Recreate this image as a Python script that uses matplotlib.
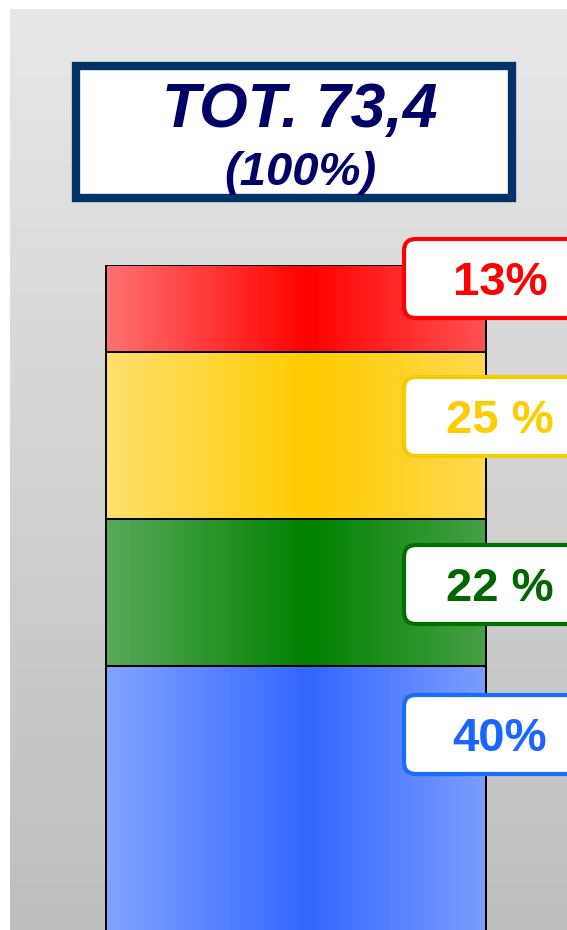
import numpy as np
import matplotlib.pyplot as plt
from matplotlib.colors import LinearSegmentedColormap
from matplotlib.patches import Rectangle, FancyBboxPatch

# data
total_label = "TOT. 73,4"
total_pct = "(100%)"
shares = [13, 25, 22, 40]
share_labels = ["13%", "25 %", "22 %", "40%"]
# left edge, centre, right edge of each gradient
bar_colors = [["#FF7272", "#FF0000", "#FF5252"],
              ["#FFE070", "#FFCC00", "#FFD950"],
              ["#5AAA5A", "#008000", "#45A045"],
              ["#82A4FF", "#3366FF", "#7C9EFF"]]
text_colors = ["#FF0000", "#FFCC00", "#006600", "#1A66FF"]
border_colors = ["#FF0000", "#F2CE00", "#007000", "#1A6CFF"]

W, H = 567, 930
fig = plt.figure(figsize=(W / 100, H / 100), dpi=100)
fig.patch.set_facecolor("white")

# background gradient
bg = fig.add_axes([0, 0, 1, 1], zorder=0)
bg.set_xlim(0, W)
bg.set_ylim(H, 0)
bg.axis("off")
grad = np.linspace(0, 1, 256).reshape(-1, 1)
bg_cmap = LinearSegmentedColormap.from_list("bg", ["#E8E8E8", "#BEBEBE"])
bg.imshow(grad, cmap=bg_cmap, extent=[10, W, H, 10], aspect="auto")

# stacked bar (one column, 0% at top)
px_per_pct = 6.69
bar_top, bar_left, bar_right = 265, 106, 486
ymax = 102
ax_h = ymax * px_per_pct
ax = fig.add_axes([0, (H - bar_top - ax_h) / H, 1, ax_h / H], zorder=1)
bw = bar_right - bar_left
ax.axis("off")

starts = np.concatenate([[0], np.cumsum(shares)[:-1]])
bars = ax.bar(0, shares, bottom=starts, width=1, facecolor="none",
              edgecolor="black", linewidth=1.4, zorder=3)
hgrad = np.linspace(0, 1, 256).reshape(1, -1)
for b, cols in zip(bars, bar_colors):
    cm = LinearSegmentedColormap.from_list("g", [(0, cols[0]), (0.53, cols[1]), (1, cols[2])])
    x0, y0 = b.get_x(), b.get_y()
    im = ax.imshow(hgrad, cmap=cm, aspect="auto", zorder=2,
                   extent=[x0, x0 + b.get_width(), y0 + b.get_height(), y0])
    im.set_clip_path(b)
ax.set_xlim(-0.5 - bar_left / bw, 0.5 + (W - bar_right) / bw)
ax.set_ylim(ymax, 0)

# overlay: title box and label boxes
ov = fig.add_axes([0, 0, 1, 1], zorder=3)
ov.set_xlim(0, W)
ov.set_ylim(H, 0)
ov.axis("off")
ov.patch.set_visible(False)

ov.add_patch(Rectangle((76, 66), 436, 132, facecolor="white",
                       edgecolor="#003366", linewidth=6))
ov.text(300, 127, total_label, ha="center", va="baseline", fontsize=45,
        fontweight="bold", fontstyle="italic", family="Liberation Sans", color="#000066")
ov.text(300, 185, total_pct, ha="center", va="baseline", fontsize=34,
        fontweight="bold", fontstyle="italic", family="Liberation Sans", color="#000066")

box_tops = [237, 375, 543, 693]
for top, lab, tc, ec in zip(box_tops, share_labels, text_colors, border_colors):
    ov.add_patch(FancyBboxPatch((404, top + 2), 220, 79,
                                boxstyle="round,pad=0,rounding_size=12",
                                facecolor="white", edgecolor=ec, linewidth=3))
    ov.text(500, top + 58, lab, ha="center", va="baseline", fontsize=34,
            fontweight="bold", family="Liberation Sans", color=tc)

fig.savefig("out.png", dpi=100)
